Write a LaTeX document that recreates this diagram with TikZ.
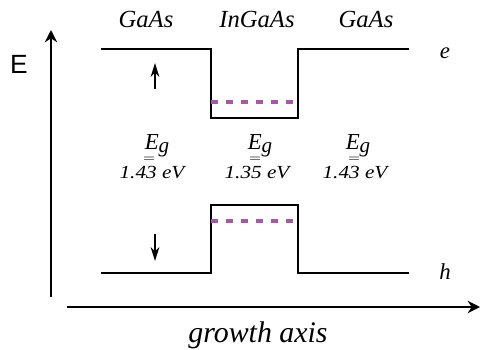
\documentclass[tikz,border=0pt]{standalone}
\usepackage{fontspec}
\setmainfont{Liberation Serif}
\setsansfont{Liberation Sans}
\usepackage{xcolor}
\usetikzlibrary{arrows.meta}
\usetikzlibrary{math}
\definecolor{mypurple}{RGB}{168,86,170}

\begin{document}
\begin{tikzpicture}[x=0.02cm,y=-0.02cm,
  lbl/.style={font=\itshape\fontsize{14}{14}\selectfont, anchor=base, inner sep=0pt},
  band/.style={line width=1},
  level/.style={mypurple, line width=2.2, dash pattern=on 4pt off 4.5pt}]
\tikzmath{
\xL=101; \xA=211; \xB=298; \xR=409;
\yC=49; \yCw=118; \yCd=102;
\yV=273; \yVw=205; \yVd=221;
}
\useasboundingbox (0,0) rectangle (480,349);

% axes
\draw[-{Stealth[length=7pt,width=7pt]}, line width=1] (51,297) -- (51,30);
\draw[-{Stealth[length=7pt,width=7pt]}, line width=1] (67,307) -- (480,307);
\node[font=\sffamily\fontsize{15}{15}\selectfont, anchor=base, inner sep=0pt] (elab) at (19,73) {E};
\node[lbl, font=\itshape\fontsize{17}{17}\selectfont] (growth) at (258,342) {growth axis};

% layers
\node[lbl] (gaasl) at (146,27) {GaAs};
\node[lbl] (ingaas) at (257,27) {InGaAs};
\node[lbl] (gaasr) at (366,27) {GaAs};

% conduction band
\draw[band] (\xL,\yC) -- (\xA,\yC) -- (\xA,\yCw) -- (\xB,\yCw) -- (\xB,\yC) -- (\xR,\yC);
\draw[level] (\xA,\yCd) -- (\xB,\yCd);
\node[lbl, font=\itshape\fontsize{13}{13}\selectfont] (elec) at (445,58) {e};
\draw[-{Stealth[length=8pt,width=5pt]}, line width=0.7] (155,89) -- (155,63);

% valence band
\draw[band] (\xL,\yV) -- (\xA,\yV) -- (\xA,\yVw) -- (\xB,\yVw) -- (\xB,\yV) -- (\xR,\yV);
\draw[level] (\xA,\yVd) -- (\xB,\yVd);
\node[lbl, font=\itshape\fontsize{13}{13}\selectfont] (hole) at (445,279) {h};
\draw[-{Stealth[length=8pt,width=5pt]}, line width=0.7] (155,234) -- (155,261);

% gaps
\foreach \xe/\xq/\xv/\gap [count=\i] in {157/149/152/1.43, 260/255/257/1.35, 358/354/355/1.43}{
  \node[lbl, font=\fontsize{13}{13}\selectfont] (eg\i) at (\xe,149) {\textit{E}\raisebox{-0.35ex}{\fontsize{12}{12}\selectfont\textit{g}}};
  \node[lbl, font=\fontsize{11}{11}\selectfont, anchor=center] (eq\i) at (\xq,159.5) {\scalebox{1.1}[0.6]{=}};
  \node[lbl, font=\itshape\fontsize{10.5}{10.5}\selectfont] (val\i) at (\xv,178) {\scalebox{1.15}[1]{\gap{} eV}};
}
\end{tikzpicture}
\end{document}
